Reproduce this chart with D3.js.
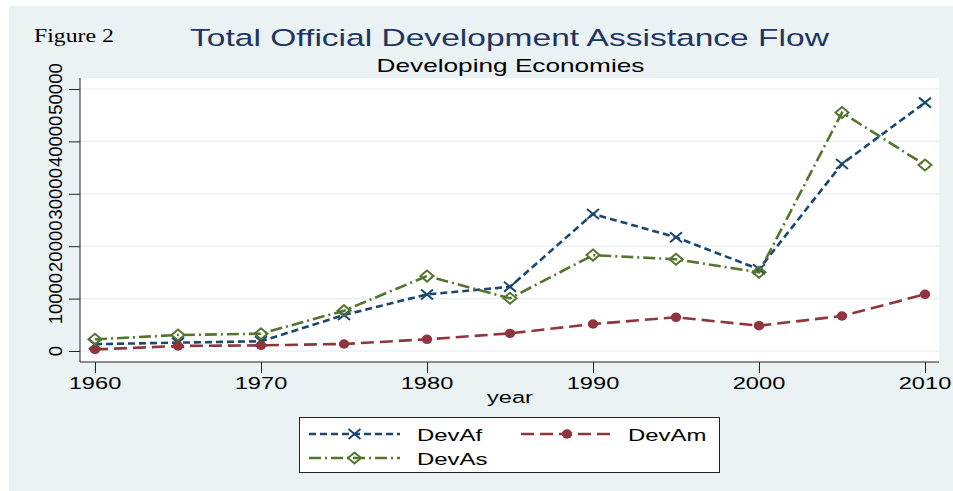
<!DOCTYPE html>
<html>
<head>
<meta charset="utf-8">
<script src="https://cdn.jsdelivr.net/npm/d3@7"></script>
<style>
  html, body { margin: 0; padding: 0; background: #fff; }
  svg { display: block; }
</style>
</head>
<body>
<svg id="chart" width="953" height="491"></svg>
<script>
// values
const years = [1960, 1965, 1970, 1975, 1980, 1985, 1990, 1995, 2000, 2005, 2010];
const devAf = [1300, 1600, 1850, 6870, 10800, 12250, 26150, 21700, 15600, 35700, 47400];
const devAm = [300, 950, 1080, 1340, 2230, 3370, 5150, 6430, 4830, 6680, 10820];
const devAs = [2230, 3050, 3300, 7700, 14300, 10060, 18300, 17500, 15020, 45500, 35500];
const yTicks = [0, 10000, 20000, 30000, 40000, 50000];
const xTicks = [1960, 1970, 1980, 1990, 2000, 2010];

const series = [
  { name: "DevAf", values: devAf, color: "#1a476f", dash: "7,4", marker: "x" },
  { name: "DevAm", values: devAm, color: "#90353b", dash: "13,6", marker: "circle" },
  { name: "DevAs", values: devAs, color: "#55752f", dash: "12,4,2,4", marker: "diamond" }
];

const svg = d3.select("#chart");
const font = "'Liberation Sans', Arial, sans-serif";

// plot box
const plot = { left: 80, right: 939, top: 78, bottom: 362 };

const x = d3.scaleLinear().domain([1960, 2010]).range([95, 925]);
const y = d3.scaleLinear().domain([0, 50000]).range([351, 89]);

// stretched text (the original picture is widened horizontally)
function stext(parent, px, py, str, o) {
  const g = parent.append("g")
    .attr("transform", `translate(${px},${py}) scale(${o.sx || 1},1)` + (o.rot ? ` rotate(${o.rot})` : ""));
  return g.append("text")
    .attr("text-anchor", o.anchor || "start")
    .attr("font-family", o.family || font)
    .attr("font-size", o.size)
    .attr("fill", o.fill || "#000")
    .text(str);
}

// background
svg.append("rect").attr("x", 9).attr("y", 6).attr("width", 944).attr("height", 485).attr("fill", "#eaf2f3");
svg.append("rect")
  .attr("x", plot.left).attr("y", plot.top)
  .attr("width", plot.right - plot.left).attr("height", plot.bottom - plot.top)
  .attr("fill", "#fff");

// titles
stext(svg, 34, 41.7, "Figure 2", { size: 19, sx: 1.25, family: "'Liberation Serif', 'Times New Roman', serif" });
stext(svg, 509.5, 46, "Total Official Development Assistance Flow", { size: 23.3, sx: 1.44, anchor: "middle", fill: "#1e3462" });
stext(svg, 510.5, 72.3, "Developing Economies", { size: 17.7, sx: 1.48, anchor: "middle" });

// grid
svg.append("g").selectAll("line").data(yTicks).join("line")
  .attr("x1", plot.left).attr("x2", plot.right)
  .attr("y1", d => y(d)).attr("y2", d => y(d))
  .attr("stroke", "#eaf2f3").attr("stroke-width", 1.6);

// y axis
const yAxis = svg.append("g").attr("transform", `translate(${plot.left},0)`)
  .call(d3.axisLeft(y).tickValues(yTicks).tickSize(11).tickFormat(""));
yAxis.select(".domain").attr("d", `M0,${plot.top}V${plot.bottom}`).attr("stroke", "#222");
yAxis.selectAll(".tick line").attr("stroke", "#222");
yTicks.forEach(t => {
  stext(svg, 62, y(t), d3.format("d")(t), { size: 18.5, sx: 1.0, rot: -90, anchor: "middle" });
});

// x axis
const xAxis = svg.append("g").attr("transform", `translate(0,${plot.bottom})`)
  .call(d3.axisBottom(x).tickValues(xTicks).tickSize(11).tickFormat(""));
xAxis.select(".domain").attr("d", `M${plot.left},0H${plot.right}`).attr("stroke", "#222");
xAxis.selectAll(".tick line").attr("stroke", "#222");
xTicks.forEach(t => {
  stext(svg, x(t), 389, String(t), { size: 16.3, sx: 1.45, anchor: "middle" });
});
stext(svg, 510, 403, "year", { size: 16.3, sx: 1.45, anchor: "middle" });

// markers
function drawMarker(g, kind, cx, cy, color) {
  if (kind === "x") {
    g.append("path")
      .attr("d", `M${cx - 6},${cy - 5}L${cx + 6},${cy + 5}M${cx - 6},${cy + 5}L${cx + 6},${cy - 5}`)
      .attr("stroke", color).attr("stroke-width", 2).attr("fill", "none");
  } else if (kind === "circle") {
    g.append("ellipse").attr("cx", cx).attr("cy", cy).attr("rx", 5.2).attr("ry", 4.7).attr("fill", color);
  } else {
    g.append("path")
      .attr("d", `M${cx - 6.5},${cy}L${cx},${cy - 5.5}L${cx + 6.5},${cy}L${cx},${cy + 5.5}Z`)
      .attr("stroke", color).attr("stroke-width", 2).attr("fill", "none");
  }
}

const line = d3.line().x(d => x(d[0])).y(d => y(d[1]));

series.forEach(s => {
  const pts = years.map((yr, i) => [yr, s.values[i]]);
  const g = svg.append("g");
  g.append("path").datum(pts)
    .attr("d", line)
    .attr("fill", "none")
    .attr("stroke", s.color)
    .attr("stroke-width", 2.6)
    .attr("stroke-dasharray", s.dash);
  pts.forEach(p => drawMarker(g, s.marker, x(p[0]), y(p[1]), s.color));
});

// legend
const lg = svg.append("g");
lg.append("rect").attr("x", 299.5).attr("y", 417.5).attr("width", 420).attr("height", 55)
  .attr("fill", "#fff").attr("stroke", "#222").attr("stroke-width", 1);
const slots = [
  { x0: 309, x1: 400, ly: 434, tx: 417 },
  { x0: 521, x1: 613, ly: 434, tx: 628 },
  { x0: 309, x1: 400, ly: 458, tx: 417 }
];
series.forEach((s, i) => {
  const sl = slots[i];
  lg.append("line").attr("x1", sl.x0).attr("x2", sl.x1).attr("y1", sl.ly).attr("y2", sl.ly)
    .attr("stroke", s.color).attr("stroke-width", 2.6).attr("stroke-dasharray", s.dash);
  drawMarker(lg, s.marker, (sl.x0 + sl.x1) / 2, sl.ly, s.color);
  stext(lg, sl.tx, sl.ly + 6.5, s.name, { size: 16.5, sx: 1.45 });
});
</script>
</body>
</html>
